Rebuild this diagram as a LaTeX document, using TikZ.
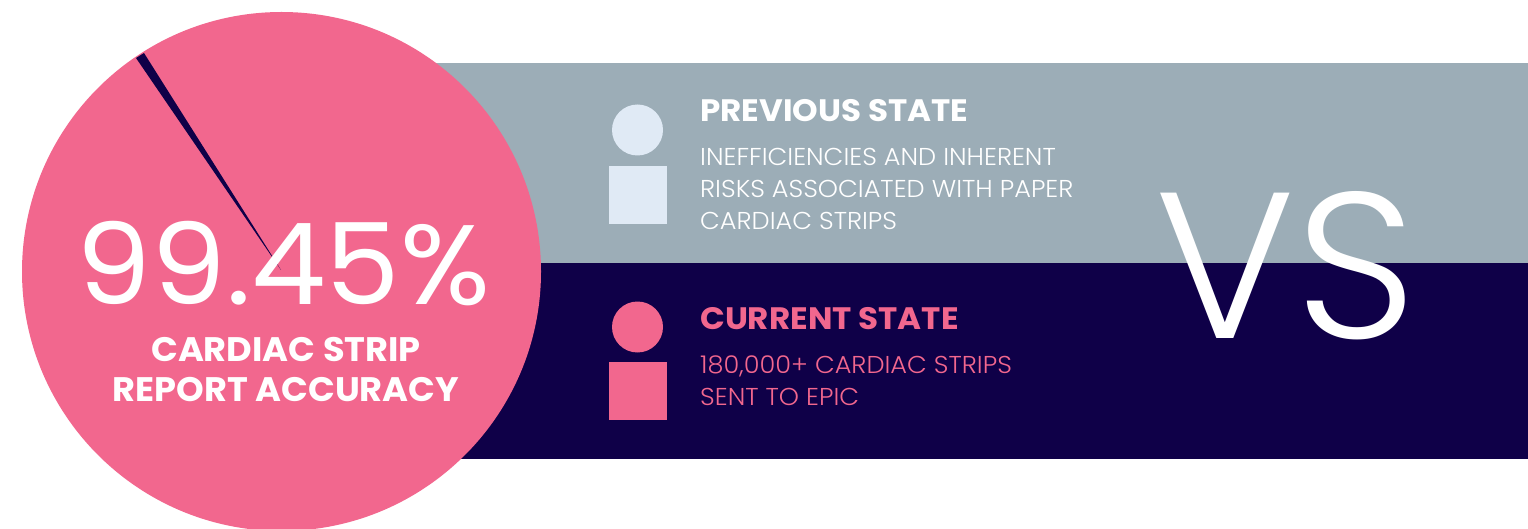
\documentclass[tikz,border=0pt]{standalone}
\usepackage{fontspec}
\setmainfont{Poppins}
\newfontfamily\lightf[FakeStretch=1.05]{Poppins Light}
\newfontfamily\vsf[FakeStretch=1.02]{Poppins Light}
\newfontfamily\regf[FakeStretch=1.05]{Poppins}
\newfontfamily\boldf[FakeStretch=1.05]{Poppins Bold}
\newfontfamily\capf[FakeStretch=1.035]{Poppins Bold}
\definecolor{pinkc}{HTML}{F2678E}
\definecolor{navyc}{HTML}{0F0048}
\definecolor{grayc}{HTML}{9CADB7}
\definecolor{lightc}{HTML}{E0EAF5}
\tikzset{
 txt/.style={inner sep=0pt,anchor=base west},
 ctxt/.style={inner sep=0pt,anchor=base},
 headb/.style={txt,font=\boldf\fontsize{31}{31}\selectfont},
 bodyt/.style={txt,font=\lightf\fontsize{24.4}{24.4}\selectfont},
 capt/.style={ctxt,text=white,font=\capf\fontsize{34}{34}\selectfont},
}
\begin{document}
\begin{tikzpicture}[x=1pt,y=-1pt]
\useasboundingbox (0,0) rectangle (1528,529);
\fill[white] (0,0) rectangle (1528,529);
\fill[grayc] (400,63) rectangle (1528,263);
\fill[navyc] (400,263) rectangle (1528,459);
\begin{scope}
\clip (0,0) rectangle (1528,529);
\fill[pinkc] (281.5,271.5) circle[radius=259.5];
\end{scope}
\fill[navyc] (281,270) -- (136,58) -- (144,53) -- cycle;
\node[ctxt,text=white,font=\regf\fontsize{113}{113}\selectfont] (pct) at (283.5,305) {99.45\%};
\node[capt] (c1) at (286,361) {CARDIAC STRIP};
\node[capt] (c2) at (286,401) {REPORT ACCURACY};
\fill[lightc] (637.5,130) circle[radius=25.5];
\fill[lightc] (609,166) rectangle (667,224);
\fill[pinkc] (637.5,327) circle[radius=25.5];
\fill[pinkc] (609,362) rectangle (667,420);
\node[headb,text=white] (h1) at (700,122) {PREVIOUS STATE};
\node[bodyt,text=white] (b1) at (700,166) {INEFFICIENCIES AND INHERENT};
\node[bodyt,text=white] (b2) at (700,198) {RISKS ASSOCIATED WITH PAPER};
\node[bodyt,text=white] (b3) at (700,230) {CARDIAC STRIPS};
\node[headb,text=pinkc] (h2) at (700,329) {CURRENT STATE};
\node[bodyt,text=pinkc] (b4) at (700,373) {180,000+ CARDIAC STRIPS};
\node[bodyt,text=pinkc] (b5) at (700,405) {SENT TO EPIC};
\node[ctxt,text=white,font=\vsf\fontsize{208}{208}\selectfont] (vs) at (1286.5,338) {VS};
\end{tikzpicture}
\end{document}
